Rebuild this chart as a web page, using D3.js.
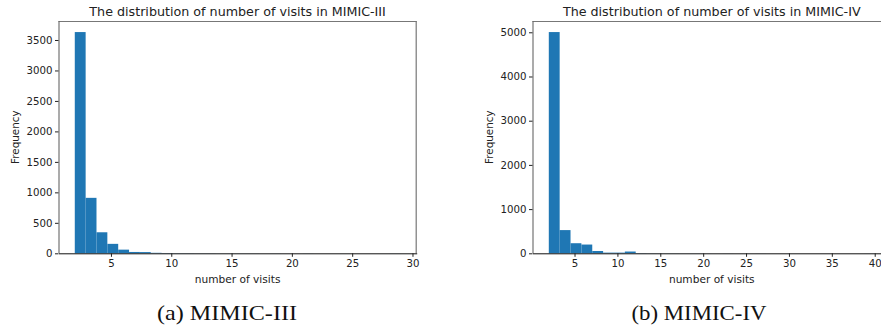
<!DOCTYPE html>
<html><head><meta charset="utf-8">
<script src="https://cdn.jsdelivr.net/npm/d3@7"></script>
<style>body{margin:0;background:#fff}svg{display:block}</style>
</head><body>
<svg id="c" width="881" height="333"></svg>
<script>
// ---- data ----
const titles = ["The distribution of number of visits in MIMIC-III", "The distribution of number of visits in MIMIC-IV"];
const captions = ["(a) MIMIC-III", "(b) MIMIC-IV"];
const binRange3 = [2, 29];
const counts3 = [3630, 910, 345, 155, 60, 22, 20, 8, 5, 3, 3, 2, 2, 1, 1, 1, 1, 0, 1, 0, 0, 1, 0, 0, 0, 0, 0, 0, 0, 1];
const binRange4 = [2, 40];
const counts4 = [5005, 525, 228, 198, 52, 15, 15, 40, 5, 3, 2, 2, 1, 1, 1, 0, 1, 0, 0, 1, 0, 0, 0, 0, 0, 0, 0, 0, 0, 1];
const xTicks3 = [5, 10, 15, 20, 25, 30];
const yTicks3 = [0, 500, 1000, 1500, 2000, 2500, 3000, 3500];
const xTicks4 = [5, 10, 15, 20, 25, 30, 35, 40];
const yTicks4 = [0, 1000, 2000, 3000, 4000, 5000];
const xLabel = "number of visits";
const yLabel = "Frequency";

const svg = d3.select("#c");
const panels = [
  {title: titles[0], cap: captions[0], range: binRange3, counts: counts3, xt: xTicks3, yt: yTicks3,
   box: {l: 58.5, r: 416.7, t: 21, b: 253.3}, capX: 227, capW: 140, ylx: 15},
  {title: titles[1], cap: captions[1], range: binRange4, counts: counts4, xt: xTicks4, yt: yTicks4,
   box: {l: 532.5, r: 891, t: 21, b: 253.3}, capX: 699, capW: 135, ylx: 489}
];
const FONT = "DejaVu Sans, sans-serif";
const fmt = d3.format("d");

panels.forEach(p => {
  const n = p.counts.length;
  const w = (p.range[1] - p.range[0]) / n;
  const bins = p.counts.map((c, i) => ({x0: p.range[0] + i * w, x1: p.range[0] + (i + 1) * w, c}));
  const span = p.range[1] - p.range[0];
  const x = d3.scaleLinear().domain([p.range[0] - 0.05 * span, p.range[1] + 0.05 * span]).range([p.box.l, p.box.r]);
  const y = d3.scaleLinear().domain([0, 1.05 * d3.max(p.counts)]).range([p.box.b, p.box.t]);
  const g = svg.append("g");

  g.selectAll("rect.bar").data(bins).join("rect").attr("class", "bar")
    .attr("x", d => x(d.x0)).attr("width", d => x(d.x1) - x(d.x0))
    .attr("y", d => y(d.c)).attr("height", d => y(0) - y(d.c))
    .attr("fill", "#1f77b4");

  // spines
  g.append("line").attr("x1", p.box.l).attr("x2", p.box.r).attr("y1", p.box.t + 0.5).attr("y2", p.box.t + 0.5).attr("stroke", "#777").attr("stroke-width", 1.2);
  g.append("line").attr("x1", p.box.l + 0.5).attr("x2", p.box.l + 0.5).attr("y1", p.box.t).attr("y2", p.box.b).attr("stroke", "#666").attr("stroke-width", 1.1);
  g.append("line").attr("x1", p.box.r - 0.5).attr("x2", p.box.r - 0.5).attr("y1", p.box.t).attr("y2", p.box.b).attr("stroke", "#777").attr("stroke-width", 1.2);

  const xa = d3.axisBottom(x).tickValues(p.xt).tickFormat(fmt).tickSize(3.5).tickPadding(2.5).tickSizeOuter(0);
  const gx = g.append("g").attr("transform", `translate(0,${p.box.b})`).call(xa);
  gx.select(".domain").attr("stroke", "#111").attr("stroke-width", 1);
  gx.selectAll("text").attr("font-family", FONT).attr("font-size", 10.2).attr("fill", "#222");
  gx.selectAll(".tick line").attr("stroke", "#222");

  const ya = d3.axisLeft(y).tickValues(p.yt).tickFormat(fmt).tickSize(3.5).tickPadding(2.5).tickSizeOuter(0);
  const gy = g.append("g").attr("transform", `translate(${p.box.l},0)`).call(ya);
  gy.select(".domain").remove();
  gy.selectAll("text").attr("font-family", FONT).attr("font-size", 10.2).attr("fill", "#222");
  gy.selectAll(".tick line").attr("stroke", "#222");

  g.append("text").attr("x", (p.box.l + p.box.r) / 2).attr("y", 15.5).attr("text-anchor", "middle")
    .attr("font-family", FONT).attr("font-size", 12.7).attr("fill", "#222").text(p.title);
  g.append("text").attr("x", (p.box.l + p.box.r) / 2).attr("y", 283).attr("text-anchor", "middle")
    .attr("font-family", FONT).attr("font-size", 10.6).attr("fill", "#222").text(xLabel);
  g.append("text").attr("transform", `translate(${p.ylx + 3.5},${(p.box.t + p.box.b) / 2}) rotate(-90)`).attr("text-anchor", "middle")
    .attr("font-family", FONT).attr("font-size", 10.4).attr("fill", "#222").text(yLabel);

  g.append("text").attr("x", p.capX).attr("y", 320).attr("text-anchor", "middle")
    .attr("font-family", "Liberation Serif, Times New Roman, serif").attr("font-size", 21)
    .attr("textLength", p.capW).attr("lengthAdjust", "spacingAndGlyphs")
    .attr("fill", "#111").text(p.cap);
});
</script>
</body></html>
